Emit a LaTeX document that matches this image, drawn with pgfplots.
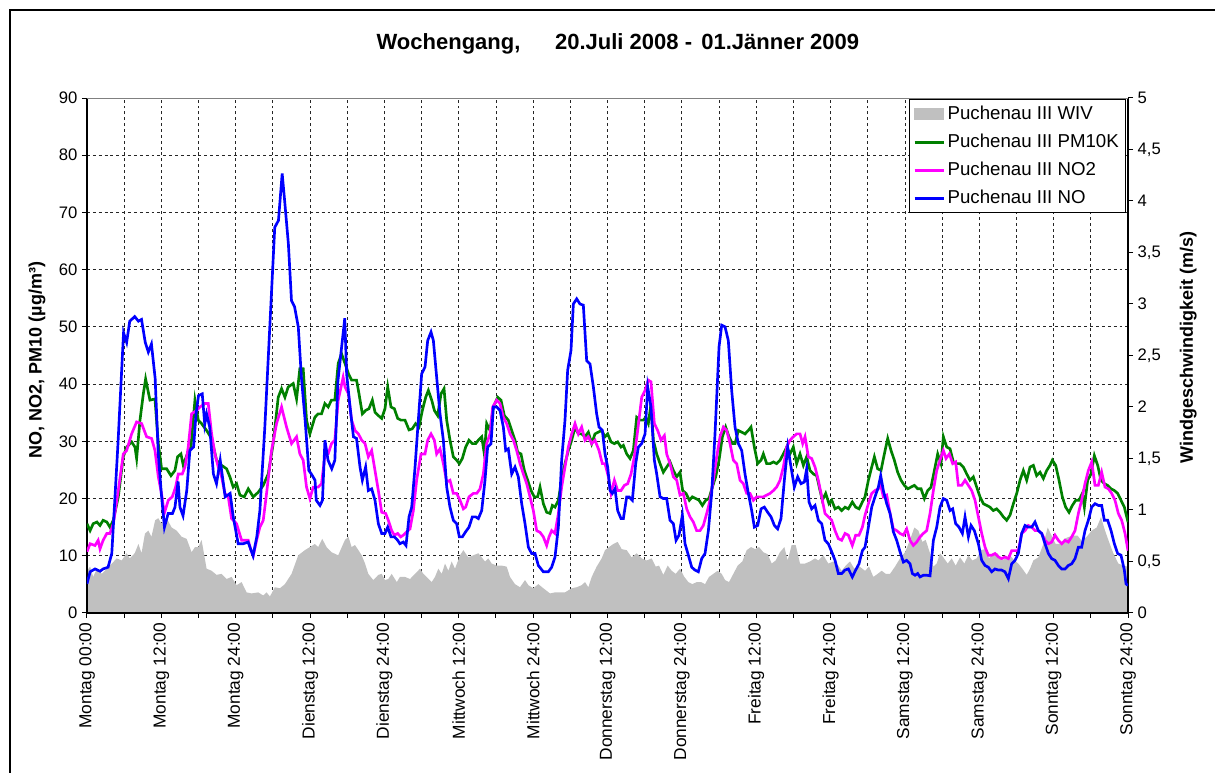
\documentclass[border=0pt]{standalone}
\usepackage{pgfplots}
\pgfplotsset{compat=1.18}
\usepackage{pgfplotstable}
\usepackage{fontspec}
\setmainfont{Liberation Sans}
\definecolor{wiv}{RGB}{192,192,192}
\definecolor{pmgreen}{RGB}{0,128,0}
\definecolor{nomag}{RGB}{255,0,255}
\definecolor{noblue}{RGB}{0,0,255}
\definecolor{frameg}{RGB}{128,128,128}

\pgfplotstableread{
h v
0 5.1
0.5 7.2
1.3 7.7
2.1 7.3
2.6 7.7
3.4 8.0
4.0 10.4
5.0 29.6
5.9 49.0
6.4 47.3
6.9 51.0
7.7 51.8
8.3 51.0
8.8 51.3
9.4 47.3
9.9 45.6
10.4 47.0
11.0 41.0
11.5 27.8
12.0 20.8
12.5 15.0
13.1 17.4
13.8 17.4
14.2 18.5
14.7 23.0
15.0 18.5
15.5 17.0
16.1 21.4
16.6 28.4
17.2 29.0
17.6 34.8
18.0 38.0
18.6 38.3
19.0 33.0
19.3 34.8
19.8 32.5
20.4 24.3
20.9 22.6
21.5 26.7
22.3 20.3
23.1 20.9
23.6 16.8
24.4 12.1
25.2 12.1
26.0 12.4
26.8 10.0
27.4 13.3
27.9 17.9
28.7 32.5
29.5 50.0
30.3 67.4
30.9 68.6
31.5 76.8
31.9 72.0
32.5 64.5
33.0 54.6
33.5 53.5
34.1 50.0
34.6 41.2
35.2 33.7
35.8 24.9
36.2 24.3
36.8 23.2
37.0 19.7
37.6 18.8
38.0 19.7
38.4 30.2
38.9 26.7
39.5 25.2
40.0 26.7
40.5 40.6
41.6 51.5
41.9 41.8
42.45 36.0
43.0 30.8
43.5 30.5
44.06 25.5
44.44 23.2
44.97 25.5
45.4 21.4
45.94 21.7
46.48 19.7
47.02 15.6
47.56 13.9
48.09 13.9
48.53 15.0
49.06 13.3
49.6 13.3
50.14 12.7
50.5 12.1
51.05 12.4
51.48 11.8
51.97 16.8
52.4 18.5
52.94 25.5
53.47 33.7
54.01 41.8
54.55 43.0
54.98 47.6
55.52 49.1
55.9 47.6
56.43 41.2
56.97 34.8
57.51 30.2
58.05 22.0
58.58 18.5
59.12 16.2
59.66 15.6
60.09 13.3
60.57 13.3
61.11 14.2
61.65 15.0
62.19 16.8
62.73 16.8
63.16 16.5
63.7 17.9
64.23 23.2
64.66 29.0
65.2 29.6
65.58 36.0
66.12 36.0
66.65 35.4
67.19 32.5
67.57 28.4
67.99 28.7
68.54 24.3
69.07 25.5
69.61 23.8
70.15 19.1
70.69 15.6
71.23 11.5
71.76 10.4
72.3 10.4
72.84 8.3
73.65 7.2
74.45 7.2
74.99 8.0
75.53 9.8
76.07 15.0
76.6 26.7
77.14 33.7
77.57 42.4
78.11 45.9
78.49 54.0
79.03 54.9
79.56 54.0
80.1 53.8
80.64 44.1
81.18 43.5
81.72 39.5
82.25 34.8
82.63 32.5
83.17 31.9
83.6 27.8
84.03 25.5
84.41 21.4
84.78 20.9
85.21 21.7
85.64 17.9
86.18 16.5
86.56 16.5
87.1 20.3
87.47 20.3
88.01 19.7
88.55 26.1
88.98 29.0
89.52 29.6
90.06 31.3
90.49 39.5
91.02 36.0
91.56 26.7
91.94 24.3
92.48 20.3
93.01 20.0
93.55 20.0
94.09 16.2
94.63 15.6
95.06 12.7
95.54 13.6
96.08 17.1
96.51 12.1
97.05 10.1
97.59 8.0
98.12 7.5
98.66 7.2
99.2 9.5
99.74 10.4
100.28 14.4
100.81 20.9
101.35 31.3
102.0 46.5
102.43 50.3
102.97 50.0
103.5 47.6
104.04 38.9
104.58 32.5
105.12 29.6
105.66 28.4
106.19 24.3
106.73 20.9
107.27 17.9
107.7 15.0
108.24 15.3
108.78 18.2
109.31 18.5
109.85 17.6
110.39 16.8
110.93 15.3
111.46 14.7
112.0 16.5
112.54 23.2
113.08 29.0
113.62 25.5
114.15 22.0
114.69 23.8
115.23 22.6
115.77 22.9
116.14 25.2
116.52 19.4
116.95 18.2
117.49 18.8
118.03 16.2
118.57 15.6
119.1 12.7
119.64 12.1
120.18 10.7
120.72 9.2
121.25 6.9
121.79 6.9
122.33 7.5
122.87 7.7
123.51 6.3
124.05 7.5
124.59 8.6
125.13 10.9
125.56 11.5
126.1 15.0
126.64 18.5
127.17 20.3
127.71 22.0
128.09 24.0
128.52 21.4
129.06 19.1
129.6 17.4
130.13 14.2
130.67 12.7
131.21 10.7
131.75 8.9
132.28 9.2
132.82 8.6
133.2 6.9
133.63 6.6
134.06 6.9
134.44 6.3
134.97 6.6
135.51 6.6
136.05 6.5
136.59 12.7
137.13 15.0
137.66 18.5
138.2 20.0
138.74 19.7
139.28 17.9
139.71 18.2
140.19 15.6
140.73 15.0
141.27 13.9
141.7 16.8
142.24 13.3
142.67 15.3
143.2 14.4
143.85 12.1
144.39 9.2
144.93 8.3
145.46 8.0
146.0 7.2
146.54 7.7
147.08 7.5
147.61 7.5
148.15 7.2
148.69 6.0
149.23 8.6
149.77 9.2
150.3 10.4
150.84 13.9
151.38 15.3
151.92 15.0
152.46 15.0
152.99 15.9
153.53 14.4
154.07 13.9
154.61 12.1
155.15 10.4
155.68 9.5
156.22 9.2
156.76 8.3
157.3 7.7
157.84 7.7
158.37 8.3
158.91 8.6
159.45 9.5
159.99 11.5
160.52 11.5
161.06 14.4
161.6 16.2
162.14 18.5
162.68 19.1
163.21 18.8
163.75 18.8
164.18 16.2
164.72 16.2
165.26 14.4
165.8 12.1
166.33 10.4
166.87 10.1
167.41 7.5
167.68 5.1
168 4.8
}\dataNO

\pgfplotstableread{
h v
0 10.7
0.5 12.1
1.3 11.8
1.8 12.7
2.1 11.2
2.6 12.7
3.2 13.9
3.7 13.9
4.25 15.6
5.05 21.4
5.86 27.8
6.4 28.4
7.2 31.3
8.01 33.4
8.82 33.1
9.62 30.8
10.43 30.5
10.97 28.4
11.51 23.8
12.04 20.8
12.47 17.4
13.12 19.7
13.76 20.3
14.3 22.0
14.73 24.3
15.38 24.3
15.81 25.5
16.34 29.0
16.88 34.8
17.69 35.4
18.23 36.0
19.03 36.6
19.57 36.6
20.11 31.3
20.65 27.8
21.18 25.5
21.72 23.8
22.26 20.9
22.8 20.3
23.33 16.5
24.14 15.6
24.95 12.7
25.48 12.7
26.02 12.7
26.45 11.0
26.83 10.0
27.37 12.7
27.9 15.0
28.44 16.2
28.98 20.9
29.78 28.4
30.59 33.1
31.4 36.0
32.2 32.5
33.01 29.6
33.82 30.8
34.35 27.8
34.89 26.7
35.43 22.0
35.97 20.0
36.51 22.0
37.31 22.0
37.85 22.6
38.39 27.5
38.92 27.8
39.46 29.6
40.0 30.2
40.54 37.2
41.34 41.2
41.64 39.5
42.2 38.3
42.7 33.7
43.25 31.9
43.8 31.3
44.33 30.2
44.87 29.6
45.4 27.3
45.94 28.4
46.48 24.9
47.02 21.4
47.56 17.6
48.2 17.4
48.63 16.2
49.17 14.4
49.6 13.6
50.14 13.9
50.62 13.3
51.05 13.6
51.59 14.2
52.13 14.7
52.67 17.9
53.2 23.2
53.9 27.8
54.55 27.8
54.98 30.2
55.52 31.3
56.06 30.2
56.43 27.8
56.97 28.7
57.51 26.1
58.05 22.9
58.58 23.2
59.12 20.9
59.66 20.9
60.2 19.7
60.74 18.2
61.11 18.5
61.65 20.3
62.35 20.9
62.89 20.9
63.43 21.7
63.96 24.3
64.5 29.6
65.04 31.3
65.47 36.0
66.12 37.2
66.65 36.6
67.19 34.2
67.73 33.1
68.27 31.3
68.81 30.2
69.34 28.4
69.88 26.1
70.42 24.3
70.96 22.6
71.49 20.3
72.03 17.9
72.57 14.4
73.11 14.1
73.65 13.3
74.18 11.8
74.56 13.3
74.99 14.4
75.53 13.9
76.07 17.4
76.6 22.0
77.14 25.5
77.68 29.0
78.22 31.3
78.76 33.1
79.29 31.3
79.83 32.5
80.37 30.2
80.91 30.8
81.45 29.6
81.98 30.2
82.63 28.4
83.17 26.1
83.6 26.1
84.14 23.8
84.57 20.9
85.11 23.2
85.64 21.4
86.18 21.4
86.72 22.3
87.26 22.6
87.8 24.3
88.33 27.3
88.87 31.9
89.52 37.7
90.06 38.9
90.59 40.7
91.02 40.4
91.56 33.1
92.1 31.9
92.64 30.2
93.18 31.0
93.55 27.8
94.09 26.1
94.63 23.8
95.17 23.2
95.7 20.6
96.24 20.9
96.78 18.2
97.32 16.8
97.85 15.9
98.39 14.4
98.93 14.4
99.47 15.3
100.01 17.4
100.54 19.7
101.08 23.2
101.62 27.3
102.16 30.8
102.7 32.5
103.23 31.9
103.77 29.6
104.31 26.7
104.85 26.1
105.39 23.2
105.92 22.6
106.46 20.9
107.0 20.9
107.54 19.7
108.08 20.3
108.61 20.3
109.15 20.3
109.69 20.6
110.23 20.9
110.77 21.4
111.3 22.0
111.84 23.2
112.38 25.5
112.92 29.0
113.45 30.2
113.99 30.8
114.53 31.3
115.07 31.3
115.5 29.6
115.88 30.8
116.41 27.3
116.95 27.0
117.49 25.5
118.03 23.2
118.57 20.3
119.1 17.4
119.64 16.8
120.18 16.2
120.72 14.4
121.25 13.0
121.79 12.7
122.33 13.9
122.87 13.6
123.51 11.8
124.05 13.6
124.59 13.6
125.13 15.0
125.56 17.1
126.1 19.1
126.64 20.9
127.17 21.4
127.71 21.7
128.09 22.3
128.52 20.3
129.06 20.6
129.6 17.4
130.13 14.7
130.67 14.4
131.21 13.9
131.75 13.6
132.28 14.7
132.82 12.7
133.36 11.8
133.9 12.4
134.44 13.3
134.97 13.9
135.51 14.4
136.05 17.4
136.59 21.4
137.13 24.9
137.66 26.7
138.2 28.4
138.63 27.0
139.17 27.8
139.71 26.1
140.19 26.4
140.62 22.3
141.16 22.3
141.7 23.2
142.24 22.3
142.77 21.4
143.31 19.7
143.85 16.8
144.39 13.9
144.93 11.5
145.46 10.1
146.0 10.1
146.54 10.4
147.08 9.8
147.61 9.5
148.15 9.8
148.69 9.5
149.23 10.9
149.77 10.9
150.3 10.9
150.84 13.9
151.38 14.4
151.92 15.3
152.46 15.0
152.99 14.4
153.53 14.4
154.07 13.9
154.61 12.7
155.15 12.1
155.68 12.4
156.22 13.6
156.76 12.7
157.3 12.1
157.84 12.7
158.37 12.4
158.91 13.3
159.45 14.4
159.99 17.4
160.52 19.7
161.06 22.6
161.6 24.9
162.14 26.4
162.68 22.3
163.21 22.3
163.75 24.6
164.29 22.0
164.83 21.7
165.37 20.9
165.9 19.7
166.44 17.4
166.98 16.2
167.52 13.9
168 10.9
}\dataNOtwo

\pgfplotstableread{
h v
0 15.6
0.5 14.4
1.0 15.6
1.6 15.9
2.1 15.3
2.6 16.2
3.2 15.9
3.7 15.0
4.25 16.2
5.05 20.3
5.86 27.3
6.4 29.0
7.2 29.9
7.74 29.0
8.01 27.0
8.55 33.7
9.09 38.3
9.46 40.9
10.16 37.2
10.97 37.4
11.51 29.6
12.04 25.2
12.85 25.2
13.55 24.0
14.19 24.9
14.62 27.3
15.16 27.8
15.54 25.8
16.08 27.5
16.77 29.0
17.42 37.2
17.96 33.7
18.49 33.1
19.3 31.9
20.11 30.5
20.91 26.7
21.72 25.8
22.53 25.2
23.06 23.8
23.6 22.0
24.14 22.6
24.68 20.6
25.38 20.3
26.02 21.7
26.83 20.3
27.63 21.1
28.44 22.3
29.25 24.3
30.05 29.6
30.86 37.7
31.4 39.2
31.94 37.7
32.47 39.5
33.28 40.1
33.82 37.4
34.35 42.7
34.89 42.7
35.43 33.7
35.97 31.3
36.77 34.2
37.31 34.8
37.85 34.8
38.39 36.6
38.92 36.0
39.46 37.2
40.0 37.2
40.54 43.6
41.08 45.3
41.64 43.6
42.2 41.8
42.7 40.7
43.5 40.7
43.9 38.3
44.44 34.8
44.97 35.4
45.5 35.7
46.05 37.2
46.48 35.1
47.02 34.5
47.56 34.0
48.09 35.7
48.53 39.5
49.06 36.0
49.6 35.7
50.14 34.0
50.68 33.7
51.32 33.7
51.97 32.0
52.5 32.2
53.04 33.1
53.58 32.5
54.12 35.4
54.66 37.7
55.09 38.9
55.63 37.2
56.06 35.4
56.59 34.5
57.13 38.3
57.62 39.2
58.05 33.7
58.58 30.2
59.12 27.3
59.66 26.7
60.09 26.1
60.57 27.0
61.11 29.0
61.65 30.2
62.19 29.6
62.73 29.6
63.16 30.2
63.7 30.8
64.12 27.8
64.5 33.1
65.04 31.9
65.58 36.0
66.28 37.7
66.81 37.2
67.35 34.5
67.99 33.7
68.54 31.9
69.07 30.2
69.5 28.1
70.04 27.8
70.58 24.9
71.12 23.2
71.66 21.4
72.19 20.3
72.73 20.3
73.11 22.0
73.65 19.1
74.18 17.6
74.72 17.4
75.1 18.8
75.53 18.5
76.07 19.7
76.6 23.2
77.14 26.1
77.68 28.4
78.22 30.2
78.76 32.5
79.29 31.3
79.83 31.3
80.37 30.8
80.91 31.6
81.45 29.6
81.98 31.3
82.52 31.6
83.06 31.9
83.6 30.8
84.03 31.3
84.57 29.9
85.11 29.6
85.64 29.9
86.18 29.0
86.56 29.3
87.1 27.8
87.63 27.0
88.17 28.4
88.71 34.2
89.25 33.7
89.79 33.7
90.16 34.2
90.59 33.1
91.02 36.6
91.4 30.2
91.94 27.8
92.48 26.1
93.01 24.6
93.55 25.5
94.09 26.4
94.63 24.9
95.17 23.8
95.7 24.6
96.13 21.4
96.67 20.9
97.21 19.7
97.69 20.3
98.23 20.0
98.77 19.7
99.31 18.8
99.85 19.7
100.38 20.0
100.92 22.0
101.46 23.8
102.0 26.7
102.54 30.8
103.07 32.5
103.61 30.8
104.15 29.6
104.58 29.6
105.12 31.9
105.66 31.6
106.19 31.3
106.73 31.9
107.16 32.5
107.7 29.0
108.24 26.1
108.78 26.7
109.15 27.8
109.69 26.1
110.23 26.1
110.77 26.4
111.3 26.1
111.84 26.7
112.38 27.8
112.92 29.0
113.45 27.8
113.99 29.0
114.53 26.1
115.07 27.8
115.61 25.8
116.14 27.3
116.68 24.9
117.22 24.3
117.76 24.0
118.3 21.4
118.67 19.7
119.21 20.9
119.75 19.1
120.18 19.7
120.72 18.2
121.25 18.5
121.79 17.9
122.33 18.5
122.87 18.2
123.51 19.4
124.05 18.5
124.59 18.2
125.13 19.4
125.56 20.3
126.1 23.2
126.64 25.5
127.07 27.3
127.6 25.2
128.14 24.9
128.68 27.8
129.22 30.5
129.76 28.4
130.29 26.7
130.83 24.6
131.37 23.2
131.91 22.3
132.45 21.7
132.98 22.0
133.52 22.3
134.06 21.7
134.6 21.7
135.14 20.0
135.67 21.4
136.21 22.0
136.75 24.9
137.29 27.8
137.82 26.1
138.2 30.8
138.74 29.0
139.28 28.7
139.81 26.4
140.35 26.1
140.89 26.1
141.43 25.5
141.97 24.3
142.5 23.2
143.04 23.8
143.58 22.0
144.12 20.3
144.66 19.1
145.19 18.8
145.73 18.5
146.27 17.9
146.81 18.2
147.35 17.6
147.88 16.8
148.42 16.2
148.96 17.1
149.5 19.1
150.04 20.9
150.57 23.2
151.11 24.9
151.65 23.2
152.19 25.5
152.72 25.8
153.26 24.0
153.8 24.6
154.34 23.5
154.88 24.9
155.41 25.8
155.79 26.7
156.33 25.8
156.87 23.2
157.4 20.3
157.94 18.5
158.48 17.6
159.02 18.8
159.56 19.7
160.1 19.7
160.63 20.9
160.96 18.5
161.49 23.2
162.03 24.3
162.57 27.5
163.11 25.8
163.64 23.2
164.18 22.6
164.72 22.3
165.26 21.7
165.8 21.4
166.33 20.9
166.87 19.7
167.41 18.5
168 15.9
}\dataPM

\pgfplotstableread{
h v
0 0.41
0.5 0.45
1.0 0.35
1.6 0.43
2.4 0.38
3.2 0.43
4.0 0.48
4.8 0.53
5.6 0.51
6.4 0.58
6.9 0.53
7.7 0.58
8.3 0.67
8.8 0.58
9.35 0.77
9.9 0.80
10.4 0.74
11.0 0.90
11.5 0.92
12.0 0.87
12.85 0.92
13.66 0.83
14.46 0.80
15.27 0.74
16.08 0.72
16.88 0.59
17.42 0.64
17.96 0.64
18.49 0.71
19.3 0.43
20.11 0.41
20.91 0.37
21.72 0.38
22.53 0.33
23.33 0.35
24.14 0.27
24.95 0.30
25.75 0.20
26.56 0.19
27.63 0.20
28.44 0.17
28.98 0.20
29.52 0.16
30.32 0.25
31.13 0.24
31.94 0.28
33.01 0.38
34.09 0.56
35.16 0.61
35.97 0.64
36.77 0.67
37.31 0.64
37.96 0.72
38.66 0.64
39.46 0.59
40.54 0.56
41.34 0.67
41.64 0.71
42.2 0.74
42.7 0.64
43.25 0.66
43.8 0.61
44.33 0.56
44.87 0.48
45.4 0.38
46.2 0.32
47.02 0.37
47.56 0.38
48.09 0.32
48.63 0.33
49.17 0.38
50.0 0.30
50.5 0.35
51.32 0.35
52.13 0.33
52.94 0.38
53.74 0.43
54.28 0.38
54.82 0.35
55.63 0.30
56.16 0.35
56.7 0.43
57.24 0.38
57.78 0.48
58.32 0.41
58.85 0.50
59.39 0.43
60.2 0.56
60.74 0.61
61.54 0.54
62.35 0.56
63.16 0.58
63.7 0.54
64.23 0.50
64.77 0.53
65.31 0.48
66.12 0.46
66.92 0.46
67.73 0.45
68.27 0.35
69.07 0.28
69.88 0.25
70.69 0.32
71.23 0.27
72.03 0.24
72.84 0.28
73.65 0.24
74.72 0.19
75.53 0.20
76.33 0.20
77.14 0.20
78.22 0.24
79.03 0.25
79.83 0.27
80.37 0.30
80.91 0.25
81.45 0.35
82.25 0.45
83.06 0.53
83.6 0.61
84.25 0.64
84.94 0.67
85.64 0.69
86.29 0.62
87.1 0.61
87.9 0.54
88.71 0.58
89.52 0.53
90.32 0.51
91.13 0.53
91.78 0.45
92.31 0.46
93.01 0.37
93.71 0.46
94.36 0.41
95.0 0.38
95.7 0.43
96.4 0.35
97.05 0.30
97.69 0.28
98.39 0.30
99.09 0.30
99.74 0.28
100.38 0.35
101.08 0.38
101.78 0.41
102.43 0.38
102.97 0.32
103.61 0.30
104.31 0.38
105.01 0.46
105.76 0.50
106.46 0.61
107.16 0.64
107.81 0.62
108.45 0.64
109.15 0.59
109.85 0.57
110.5 0.48
111.14 0.51
111.84 0.59
112.54 0.64
113.08 0.51
113.72 0.66
114.37 0.66
115.07 0.48
115.88 0.48
116.68 0.50
117.49 0.53
118.03 0.51
118.83 0.56
119.64 0.48
120.45 0.50
121.25 0.46
121.79 0.41
122.44 0.46
123.14 0.50
123.84 0.43
124.48 0.46
125.56 0.41
126.21 0.45
126.9 0.35
127.6 0.38
128.25 0.41
128.9 0.38
129.6 0.38
130.4 0.45
131.21 0.53
132.02 0.59
132.82 0.71
133.52 0.83
134.17 0.80
134.81 0.69
135.35 0.71
136.05 0.58
136.59 0.45
137.13 0.48
137.66 0.58
138.2 0.54
138.9 0.48
139.55 0.53
140.19 0.46
140.89 0.54
141.59 0.48
142.24 0.56
142.88 0.51
143.58 0.53
144.28 0.61
144.93 0.62
145.57 0.53
146.27 0.58
146.97 0.58
147.61 0.51
148.26 0.53
148.96 0.56
149.66 0.51
150.3 0.48
150.95 0.43
151.65 0.37
152.19 0.43
152.72 0.51
153.53 0.54
154.34 0.67
155.04 0.83
155.68 0.75
156.33 0.67
157.03 0.67
157.73 0.72
158.48 0.74
159.18 0.75
159.88 0.75
160.52 0.70
161.33 0.74
162.14 0.80
162.95 0.83
163.64 0.93
164.29 0.80
164.94 0.69
165.63 0.58
166.44 0.48
167.25 0.46
168 0.45
}\dataWIV

\begin{document}
\begin{tikzpicture}
\useasboundingbox (-65.25pt,-120pt) rectangle (846pt,459.75pt);
\pgfplotsset{base/.style={scale only axis, width=780.75pt, height=386.25pt,
  xmin=0, xmax=168, at={(0pt,0pt)}, anchor=south west}}
% grid only
\begin{axis}[base, ymin=0, ymax=90,
  xtick={0,12,...,168}, minor xtick={6,18,...,162}, ytick={0,10,...,90},
  xticklabel={\mbox{}}, yticklabel={\mbox{}},
  major tick length=0pt, minor tick length=0pt,
  axis line style={draw=none},
  xmajorgrids, xminorgrids, ymajorgrids,
  grid style={black!85, line width=0.6pt, dash pattern=on 2.2pt off 2.2pt},
  minor grid style={black!85, line width=0.6pt, dash pattern=on 2.2pt off 2.2pt}]
\end{axis}
% wind (right axis)
\begin{axis}[base, ymin=0, ymax=5, axis on top,
  axis x line=none, axis y line=right,
  ytick={0,0.5,1,1.5,2,2.5,3,3.5,4,4.5,5},
  tick align=outside, major tick length=3.75pt,
  axis line style={black, line width=1pt, -},
  ytick style={black, line width=0.75pt},
  /pgf/number format/use comma,
  /pgf/number format/assume math mode=true,
  yticklabel style={font=\fontsize{12.5}{14}\selectfont},
  ylabel={Windgeschwindigkeit (m/s)},
  ylabel style={font=\bfseries\fontsize{13.5}{16}\selectfont,
    at={(axis description cs:1.058,0.515)}, anchor=center}]
\addplot[fill=wiv, draw=none] table[x=h, y=v] {\dataWIV} \closedcycle;
\end{axis}
% pollutants (left axis)
\begin{axis}[base, ymin=0, ymax=90,
  axis x line=bottom, axis y line=left,
  xtick={0,12,...,168}, minor xtick={6,18,...,162},
  xticklabels={Montag 00:00, Montag 12:00, Montag 24:00, Dienstag 12:00, Dienstag 24:00,
    Mittwoch 12:00, Mittwoch 24:00, Donnerstag 12:00, Donnerstag 24:00, Freitag 12:00,
    Freitag 24:00, Samstag 12:00, Samstag 24:00, Sonntag 12:00, Sonntag 24:00},
  ytick={0,10,...,90},
  tick align=outside, major tick length=3.75pt, minor tick length=3.75pt,
  tick style={black, line width=0.75pt},
  axis line style={black, line width=1pt, -},
  /pgf/number format/assume math mode=true,
  xticklabel style={rotate=90, anchor=east, font=\fontsize{13}{15}\selectfont},
  yticklabel style={font=\fontsize{12.5}{14}\selectfont},
  ylabel={NO, NO2, PM10 (µg/m³)},
  ylabel style={font=\bfseries\fontsize{13.5}{16}\selectfont,
    at={(axis description cs:-0.048,0.491)}, anchor=center},
  title={Wochengang,\hspace{26pt}20.Juli 2008 -\hspace{7pt}01.Jänner 2009},
  title style={font=\bfseries\fontsize{16.5}{19}\selectfont,
    at={(axis description cs:0.510,1.089)}, anchor=center},
  legend image code/.code={\draw[#1] (0pt,0pt) -- (21.75pt,0pt);},
  legend cell align=left,
  legend style={at={(1,1)}, anchor=north east, xshift=-1.5pt, yshift=-0.75pt,
    draw=black, line width=0.75pt, fill=white,
    font=\fontsize{14}{16}\selectfont,
    inner xsep=3pt, inner ysep=2.25pt, row sep=3.5pt,
    nodes={inner sep=2pt, text height=10.5pt, text depth=3pt}}]
\addlegendimage{legend image code/.code={\fill[wiv] (0pt,-4.1pt) rectangle (21.75pt,4.1pt);}}
\addlegendentry{Puchenau III WIV}
\addplot[pmgreen, line width=2pt] table[x=h, y=v] {\dataPM};
\addlegendentry{Puchenau III PM10K}
\addplot[nomag, line width=2pt] table[x=h, y=v] {\dataNOtwo};
\addlegendentry{Puchenau III NO2}
\addplot[noblue, line width=2pt] table[x=h, y=v] {\dataNO};
\addlegendentry{Puchenau III NO}
\draw[frameg, line width=1.5pt] (rel axis cs:0,1) -- (rel axis cs:1,1);
\end{axis}
\draw[black, line width=1.5pt] (-57.75pt,-120pt) -- (-57.75pt,452.25pt) -- (846pt,452.25pt);
\end{tikzpicture}
\end{document}
